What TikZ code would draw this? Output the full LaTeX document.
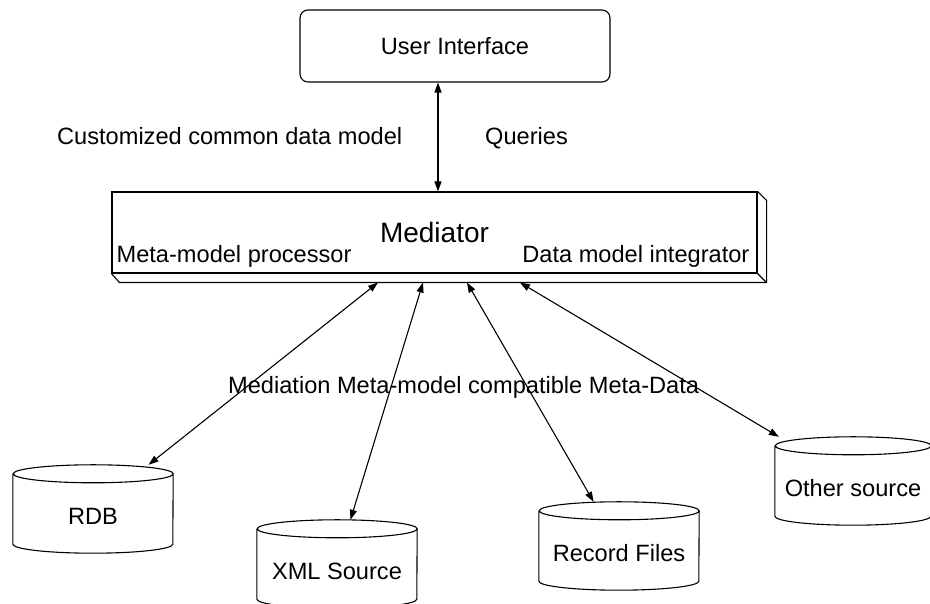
\documentclass[tikz,border=0pt]{standalone}
\usepackage{fontspec}
\setmainfont{Liberation Sans}
\usetikzlibrary{arrows.meta}
\begin{document}
\begin{tikzpicture}[x=1pt, y=1pt,
    every node/.style={font=\fontsize{23.6}{28}\selectfont},
    box/.style={draw, line width=1.1pt},
    store/.style={minimum width=160, minimum height=88, inner sep=0pt, text height=34pt, text depth=3pt},
    tag/.style={inner sep=0pt},
    link/.style={line width=1.1pt, {Triangle[length=10pt,width=7pt]}-{Triangle[length=10pt,width=7pt]}}]
  \useasboundingbox (0,0) rectangle (930,604);

  % User interface on top
  \node[box, rounded corners=8, minimum width=310, minimum height=72] (ui) at (455,558) {User Interface};

  % Mediator box with its bevel
  \node[box, minimum width=645, minimum height=81, font=\fontsize{28}{32}\selectfont] (med) at (434.5,371.5) {Mediator};
  \draw[line width=1.1pt] (med.south west) -- ++(8,-9) -- ([xshift=9,yshift=-9]med.south east)
    -- ([xshift=9,yshift=-9]med.north east) -- (med.north east);
  \draw[line width=1.1pt] ([xshift=9,yshift=-9]med.south east) -- (med.south east);
  \node[tag, anchor=base west] (mmp) at ([xshift=5,yshift=11]med.south west) {Meta-model processor};
  \node[tag, anchor=base east] (dmi) at ([xshift=-8,yshift=11]med.south east) {Data model integrator};

  % Labels
  \node[tag, anchor=base west] (ccdm) at (57,459) {Customized common data model};
  \node[tag, anchor=base west] (qry) at (485,459) {Queries};
  \node[tag, anchor=base west] (mmc) at (228,210) {Mediation Meta-model compatible Meta-Data};

  % Sources
  \node[store] (rdb) at (93,95) {RDB};
  \node[store] (xml) at (337,40) {XML Source};
  \node[store] (rec) at (619,58) {Record Files};
  \node[store, minimum width=156] (oth) at (853,123) {Other source};
  \foreach \n/\r in {rdb/80, xml/80, rec/80, oth/78}
    \draw[line width=1.1pt] ([yshift=-9]\n.north west) -- ([yshift=9]\n.south west)
      arc[start angle=180, end angle=360, x radius=\r, y radius=9]
      -- ([yshift=-9]\n.north east)
      arc[start angle=0, end angle=360, x radius=\r, y radius=9];

  % Connectors
  \draw[link] ([xshift=-17]ui.south) -- ([xshift=-17]ui.south |- med.north);
  \draw[link] ([xshift=-56.5,yshift=-9]med.south) -- (rdb);
  \draw[link] ([xshift=-11.5,yshift=-9]med.south) -- (xml);
  \draw[link] ([xshift=32.5,yshift=-9]med.south) -- (rec);
  \draw[link] ([xshift=85.5,yshift=-9]med.south) -- (oth);
\end{tikzpicture}
\end{document}
